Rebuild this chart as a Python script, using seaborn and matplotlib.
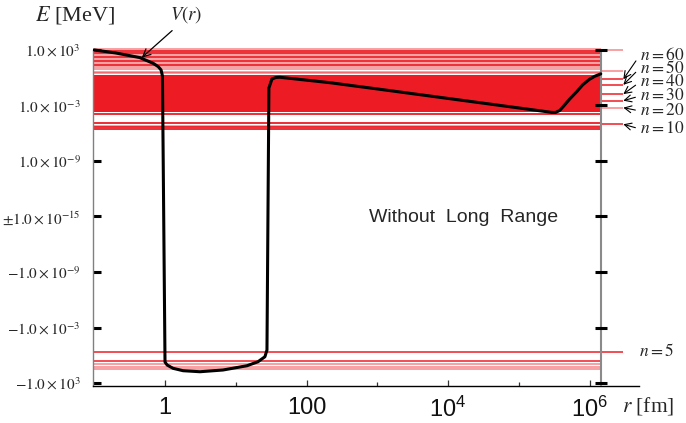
import numpy as np
import pandas as pd
import matplotlib
matplotlib.use("Agg")
import matplotlib.pyplot as plt
import seaborn as sns
from matplotlib.ticker import FixedLocator, FixedFormatter, NullLocator

# potential V(r): r in fm, V in MeV
r_fm = [0.1, 0.2, 0.44, 0.68, 0.80, 0.88, 0.92,
        1.0, 1.07, 1.30, 1.80, 3.12, 6.6, 14.4, 20.6, 25.8, 27.6,
        29.4, 32.5, 37, 42, 214, 1090, 2.8e4, 2.5e5, 2.9e5, 3.3e5,
        3.8e5, 4.3e5, 5.25e5, 6.6e5, 8.0e5, 1.0e6, 1.2e6, 1.44e6]
v_mev = [1000, 475, 150, 36, 16, 6.9, 1.55,
         -5.4, -11.2, -25.7, -46.5, -60, -39, -13.5, -5.0, -1.45, -0.27,
         0.078, 0.72, 1.07, 1.12, 0.29, 0.056, 2.0e-3, 2.1e-4, 1.8e-4, 1.75e-4,
         2.9e-4, 8.5e-4, 5.0e-3, 0.031, 0.17, 0.68, 1.5, 2.6]

# energy levels (MeV)
levels_strong = [780, 417, 175, 65, 24, 1.26e-4, 1.35e-5, 4.5e-6, 3.2e-6]
levels_faint = [1130, 254, 106, 39, 14.5, 7.8, 4.7, 2.9, 6.5e-6]
band_lo, band_hi = 2.1e-4, 2.1
levels_neg_strong = [-0.48, -4.2]
levels_neg_faint = [-9.5, -17.5, -31]
levels_ext_strong = [0.68, 0.17, 0.017, 3.3e-3, 9.3e-6, -0.48]
levels_ext_faint = [1.0e3, 5.4, 5.8e-4]
arrow_levels = [0.68, 0.17, 0.017, 3.3e-3, 5.8e-4, 9.3e-6]
arrow_labels = ["$n = 60$", "$n = 50$", "$n = 40$", "$n = 30$", "$n = 20$", "$n = 10$"]

r_min, r_max = 0.096, 5.0e6
r_edge = 1.44e6
r_ext = 3.0e6
e_lim = 2.09e3

ytick_vals = [1e3, 1e-3, 1e-9, 0, -1e-9, -1e-3, -1e3]
ytick_labels = [r"$1.0\times10^{3}$", r"$1.0\times10^{-3}$", r"$1.0\times10^{-9}$",
                r"$\pm1.0\times10^{-15}$", r"$-1.0\times10^{-9}$",
                r"$-1.0\times10^{-3}$", r"$-1.0\times10^{3}$"]
xtick_vals = [1, 100, 1e4, 1e6]
xtick_minor = [10, 1e3, 1e5]
xtick_labels = ["1", "100", "$10^{4}$", "$10^{6}$"]

RED = "#ed1c24"


def fwd(e):
    e = np.asarray(e, dtype=float)
    with np.errstate(divide="ignore", invalid="ignore"):
        t = np.log10(np.abs(e)) + 15
    t = np.where(np.isfinite(t), np.clip(t, 0, None), 0)
    return np.sign(e) * t


def inv(t):
    t = np.asarray(t, dtype=float)
    return np.sign(t) * 10 ** (np.abs(t) - 15)


sns.set_theme(style="white")
plt.rcParams["font.family"] = ["Liberation Serif", "DejaVu Serif"]
plt.rcParams["mathtext.fontset"] = "stix"
plt.rcParams["mathtext.rm"] = "Liberation Sans"
plt.rcParams["mathtext.it"] = "Liberation Sans:italic"

fig = plt.figure(figsize=(6.86, 4.23), dpi=100)
ax = fig.add_axes([93 / 686, 1 - 386 / 423, 546 / 686, 339 / 423])

df = pd.DataFrame({"r": r_fm, "V": v_mev})
sns.lineplot(data=df, x="r", y="V", ax=ax, color="black", lw=2.2,
             sort=False, estimator=None, zorder=5)

ax.set_xscale("log")
ax.set_yscale("function", functions=(fwd, inv))
ax.set_xlim(r_min, r_max)
ax.set_ylim(-e_lim, e_lim)

# levels
ax.fill_between([r_min, r_edge], band_lo, band_hi, color=RED, lw=0, zorder=2)
ax.hlines(levels_strong, r_min, r_edge, color=RED, lw=1.3, zorder=2)
ax.hlines(levels_faint, r_min, r_edge, color=RED, alpha=0.45, lw=1.3, zorder=2)
ax.hlines(levels_neg_strong, r_min, r_edge, color=RED, lw=1.1, zorder=2)
ax.hlines(levels_neg_faint, r_min, r_edge, color=RED, alpha=0.45, lw=1.3, zorder=2)
ax.hlines(levels_ext_strong, r_edge, r_ext, color=RED, lw=1.1, zorder=2)
ax.hlines(levels_ext_faint, r_edge, r_ext, color=RED, alpha=0.45, lw=1.3, zorder=2)

# right frame line with ticks
ax.vlines(r_edge, -e_lim, 1.1e3, color="#8a8a8a", lw=1.5, zorder=3)
ax.plot([r_edge] * len(ytick_vals), ytick_vals, ls="none", marker="_",
        ms=8, mew=2.2, color="black", zorder=6, clip_on=False)

ax.spines["top"].set_visible(False)
ax.spines["right"].set_visible(False)
ax.spines["left"].set_color("#808080")
ax.spines["left"].set_linewidth(1)
ax.spines["left"].set_bounds(-e_lim, 1.1e3)
ax.spines["bottom"].set_color("black")
ax.spines["bottom"].set_linewidth(1)

ax.yaxis.set_major_locator(FixedLocator(ytick_vals))
ax.yaxis.set_major_formatter(FixedFormatter(ytick_labels))
ax.yaxis.set_minor_locator(NullLocator())
ax.xaxis.set_major_locator(FixedLocator(xtick_vals))
ax.xaxis.set_major_formatter(FixedFormatter(xtick_labels))
ax.xaxis.set_minor_locator(FixedLocator(xtick_minor))
ax.xaxis.set_minor_formatter(FixedFormatter([""] * len(xtick_minor)))

ax.tick_params(axis="y", direction="in", length=5.5, width=2.2, color="black",
               pad=9, labelsize=11, left=True)
ax.tick_params(axis="x", which="major", direction="in", length=4.5, width=0.9,
               color="#333333", pad=8, labelsize=17, bottom=True)
ax.tick_params(axis="x", which="minor", direction="in", length=3, width=0.9,
               color="#333333", bottom=True)
for lbl in ax.get_xticklabels():
    lbl.set_family("Liberation Sans")
    lbl.set_math_fontfamily("custom")
    lbl.set_color("#111111")
ax.set_xlabel("")
ax.set_ylabel("")

fig.text(35 / 686, 1 - 20 / 423, "$E$ [MeV]", fontsize=16, va="baseline")
fig.text(622 / 686, 1 - 411 / 423, "$r$ [fm]", fontsize=15.5, va="baseline")

ax.text(0.679, 0.496, "Without  Long  Range", transform=ax.transAxes,
        ha="center", va="center", fontsize=14, family="Liberation Sans")

ax.annotate("$V(r)$", xy=(0.47, 150), xytext=(186, 423 - 15),
            textcoords="figure pixels", ha="center", va="center", fontsize=13.5,
            arrowprops=dict(arrowstyle="->", lw=0.9, color="black",
                            relpos=(0.25, 0), shrinkA=2, shrinkB=0))

label_y_px = [55, 68, 82, 96, 111, 129]
for lev, txt, ypx in zip(arrow_levels, arrow_labels, label_y_px):
    ax.annotate(txt, xy=(r_ext, lev), xytext=(640, 423 - ypx),
                textcoords="figure pixels", ha="left", va="center", fontsize=12.5,
                arrowprops=dict(arrowstyle="->", lw=0.8, color="black",
                                relpos=(0, 0.5), shrinkA=1, shrinkB=0))
fig.text(639 / 686, 1 - 351 / 423, "$n = 5$", fontsize=12.5, va="center")

fig.savefig("out.png", dpi=100)
plt.close(fig)
